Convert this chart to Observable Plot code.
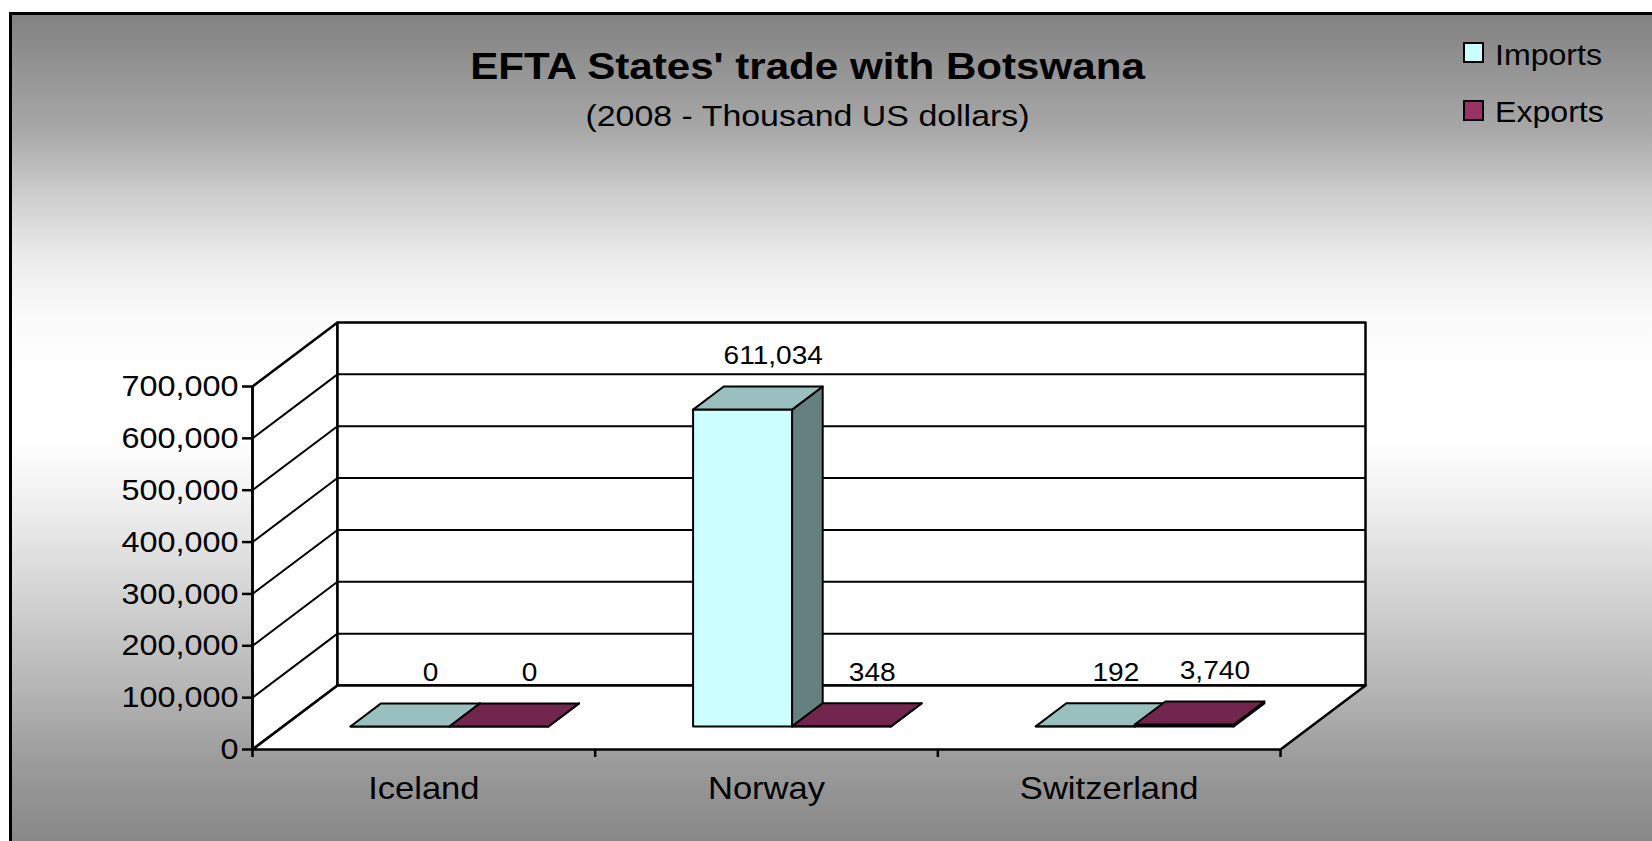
<!DOCTYPE html>
<html>
<head>
<meta charset="utf-8">
<script src="https://cdn.jsdelivr.net/npm/d3@7"></script>
<script src="https://cdn.jsdelivr.net/npm/@observablehq/plot@0.6"></script>
<style>
html, body { margin: 0; padding: 0; background: #fff; overflow: hidden; }
#page { position: relative; width: 1652px; height: 841px; overflow: hidden; font-family: "Liberation Sans", Arial, sans-serif; color: #000; }
#bg { position: absolute; left: 9px; top: 12px; width: 1700px; height: 876px; border-left: 3px solid #000; border-top: 3px solid #000;
      background: linear-gradient(to bottom, #828282 0px, #a8a8a8 115px, #d0d0d0 185px, #ececec 245px, #fbfbfb 305px, #ffffff 365px, #ffffff 425px, #f0f0f0 485px, #d8d8d8 565px, #b8b8b8 665px, #9c9c9c 745px, #888888 826px); }
.t { position: absolute; white-space: nowrap; line-height: 1; }
#title { left: 0; width: 1615px; text-align: center; top: 48.5px; font-size: 36px; font-weight: bold; transform: scaleX(1.17); transform-origin: 807.5px 50%; }
#subtitle { left: 0; width: 1615px; text-align: center; top: 100.6px; font-size: 30px; transform: scaleX(1.13); transform-origin: 807.5px 50%; }
.sw { position: absolute; left: 1463px; width: 17px; height: 17px; border: 2px solid #000; }
.lt { left: 1495px; font-size: 30px; transform: scaleX(1.07); transform-origin: 0 50%; }
#chart { position: absolute; left: 0; top: 0; }
</style>
</head>
<body>
<div id="page">
  <div id="bg"></div>
  <div id="title" class="t">EFTA States' trade with Botswana</div>
  <div id="subtitle" class="t">(2008 - Thousand US dollars)</div>
  <div class="sw" style="top:42px;background:#CCFFFF"></div>
  <div class="t lt" style="top:39.6px">Imports</div>
  <div class="sw" style="top:100px;background:#993366"></div>
  <div class="t lt" style="top:96.6px">Exports</div>
  <div id="chart"></div>
</div>
<script>
// ---- data ----
const categories = ["Iceland", "Norway", "Switzerland"];
const series = ["Imports", "Exports"];
const imports = [0, 611034, 192];
const exports = [0, 348, 3740];
const yTicks = [0, 100000, 200000, 300000, 400000, 500000, 600000, 700000];

// ---- styles ----
const faceColors = {
  Imports: {front: "#CCFFFF", top: "#99BFBF", side: "#668080"},
  Exports: {front: "#993366", top: "#73264D", side: "#4D1933"}
};

// ---- layout (pixels) ----
const W = 1652, H = 841;
const L = 252, R = 1280, Y0 = 749, YT = 386;
const yMax = yTicks[yTicks.length - 1];
const pxPerX = (R - L) / categories.length;
const pxPerY = (Y0 - YT) / yMax;
const dX = 85 / pxPerX, dY = 64 / pxPerY;   // oblique depth of the floor
const P = (x, v, f) => ({x: x + f * dX, y: v + f * dY});
const fFront = 0.36, fBack = 0.72;           // depth slice occupied by the bars
const bw = 99 / pxPerX;                      // bar width in category units
const groupShift = -5 / pxPerX;              // small leftward offset of each bar group

// walls
const walls = [];
const addPoly = (arr, id, pts, fill) => pts.forEach((p, k) => arr.push({id, fill, k, ...p}));
const nC = categories.length;
addPoly(walls, "side", [P(0, 0, 0), P(0, yMax, 0), P(0, yMax, 1), P(0, 0, 1)], "white");
addPoly(walls, "back", [P(0, 0, 1), P(nC, 0, 1), P(nC, yMax, 1), P(0, yMax, 1)], "white");
addPoly(walls, "floor", [P(0, 0, 0), P(nC, 0, 0), P(nC, 0, 1), P(0, 0, 1)], "white");
const gridVals = yTicks.filter(v => v > 0 && v < yMax);

// bars
const bars = [];
categories.forEach((c, i) => {
  [imports[i], exports[i]].forEach((v, s) => {
    const x0 = i + 0.5 + groupShift - bw + s * bw, x1 = x0 + bw;
    bars.push({category: c, series: series[s], v, x0, x1});
  });
});
const faces = [];
bars.forEach((b, j) => {
  const col = faceColors[b.series];
  addPoly(faces, j + "f", [P(b.x0, 0, fFront), P(b.x1, 0, fFront), P(b.x1, b.v, fFront), P(b.x0, b.v, fFront)], col.front);
  addPoly(faces, j + "s", [P(b.x1, 0, fFront), P(b.x1, 0, fBack), P(b.x1, b.v, fBack), P(b.x1, b.v, fFront)], col.side);
  addPoly(faces, j + "t", [P(b.x0, b.v, fFront), P(b.x1, b.v, fFront), P(b.x1, b.v, fBack), P(b.x0, b.v, fBack)], col.top);
});

const fmt = d3.format(",");
const chart = Plot.plot({
  width: W, height: H,
  marginLeft: L, marginRight: W - R, marginTop: YT, marginBottom: H - Y0,
  x: {domain: [0, nC]},
  y: {domain: [0, yMax]},
  color: {type: "identity"},
  style: {background: "transparent", overflow: "visible", fontFamily: "'Liberation Sans', Arial, sans-serif", color: "#000"},
  marks: [
    Plot.line(walls, {x: "x", y: "y", z: "id", fill: "fill", stroke: "black", strokeWidth: 2.5, curve: "linear-closed"}),
    Plot.link(gridVals, {x1: d => P(0, d, 1).x, y1: d => P(0, d, 1).y, x2: d => P(nC, d, 1).x, y2: d => P(nC, d, 1).y, stroke: "black", strokeWidth: 2}),
    Plot.link(gridVals, {x1: d => P(0, d, 0).x, y1: d => P(0, d, 0).y, x2: d => P(0, d, 1).x, y2: d => P(0, d, 1).y, stroke: "black", strokeWidth: 2}),
    Plot.ruleX([0], {y1: 0, y2: yMax, stroke: "black", strokeWidth: 2.5}),
    Plot.axisY({ticks: yTicks, tickFormat: fmt, tickSize: 10, tickPadding: 4, fontSize: 30, strokeWidth: 2.5, label: null}),
    Plot.axisX({ticks: d3.range(nC + 1), tickSize: 8, tickFormat: () => "", strokeWidth: 2.5, label: null}),
    Plot.axisX({ticks: categories.map((c, i) => i + 0.5), tickSize: 0, tickPadding: 27, tickFormat: d => categories[Math.floor(d)], fontSize: 32, label: null}),
    Plot.line(faces, {x: "x", y: "y", z: "id", fill: "fill", stroke: "black", strokeWidth: 2, curve: "linear-closed"}),
    Plot.text(bars, {x: b => P((b.x0 + b.x1) / 2, b.v, fBack).x, y: b => P((b.x0 + b.x1) / 2, b.v, fBack).y, text: b => fmt(b.v), dy: -31, fontSize: 26, fill: "black"})
  ]
});
document.getElementById("chart").appendChild(chart);
// horizontal stretch of the SVG labels to match the reference's wide lettering
chart.querySelectorAll("text").forEach(t => {
  const len = t.getComputedTextLength();
  if (len > 0) {
    t.setAttribute("textLength", (len * 1.08).toFixed(1));
    t.setAttribute("lengthAdjust", "spacingAndGlyphs");
  }
});
</script>
</body>
</html>
